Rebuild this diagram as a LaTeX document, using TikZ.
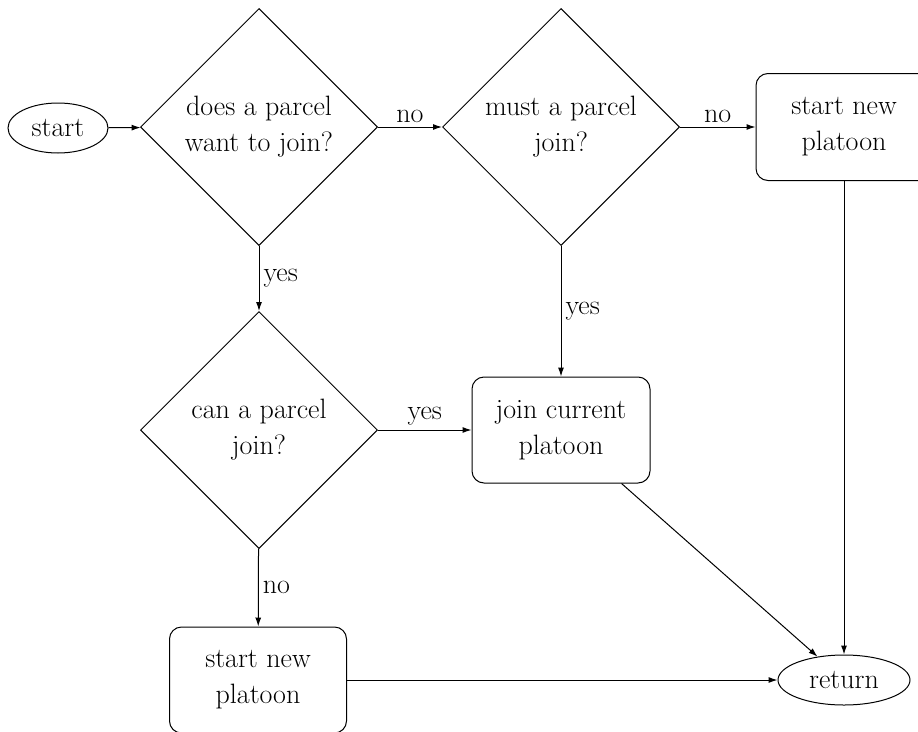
\documentclass[tikz,border=0pt]{standalone}
\usetikzlibrary{shapes.geometric,arrows.meta}
\begin{document}
\begin{tikzpicture}[x=1pt,y=-1pt,
  every node/.style={font=\fontsize{28}{36}\selectfont},
  term/.style={draw,ellipse,line width=1pt,inner sep=0pt},
  decision/.style={draw,diamond,line width=1pt,minimum width=237pt,minimum height=237pt,inner sep=0pt,align=center},
  procbox/.style={draw,rounded corners=12pt,line width=1pt,minimum width=177pt,minimum height=106pt,align=center,inner sep=0pt},
  conn/.style={-{Latex[length=9pt,width=6pt]},line width=1pt},
  lbl/.style={inner sep=4pt}]
\useasboundingbox (0,0) rectangle (918,731);
\node[term,minimum width=100pt,minimum height=50pt] (start) at (58,128) {start};
\node[decision] (d1) at (259,127) {does a parcel\\want to join?};
\node[decision] (d2) at (561,127) {must a parcel\\join?};
\node[procbox,minimum width=176pt,minimum height=107pt] (newR) at (844,127) {start new\\platoon};
\node[decision] (d3) at (259,430) {can a parcel\\join?};
\node[procbox,minimum width=178pt] (join) at (561,430) {join current\\platoon};
\node[procbox] (newB) at (258,680) {start new\\platoon};
\node[term,minimum width=132pt,minimum height=50pt] (ret) at (844,680) {return};
\draw[conn] (start) -- (d1);
\draw[conn] (d1) -- node[lbl,above] {no} (d2);
\draw[conn] (d2) -- node[lbl,above] {no} (newR);
\draw[conn] (d1) -- node[lbl,right] {yes} (d3);
\draw[conn] (d2) -- node[lbl,right] {yes} (join);
\draw[conn] (d3) -- node[lbl,above] {yes} (join);
\draw[conn] (d3) -- node[lbl,right] {no} (newB);
\draw[conn] (newB) -- (ret);
\draw[conn] (join) -- (ret);
\draw[conn] (newR) -- (ret);
\end{tikzpicture}
\end{document}
